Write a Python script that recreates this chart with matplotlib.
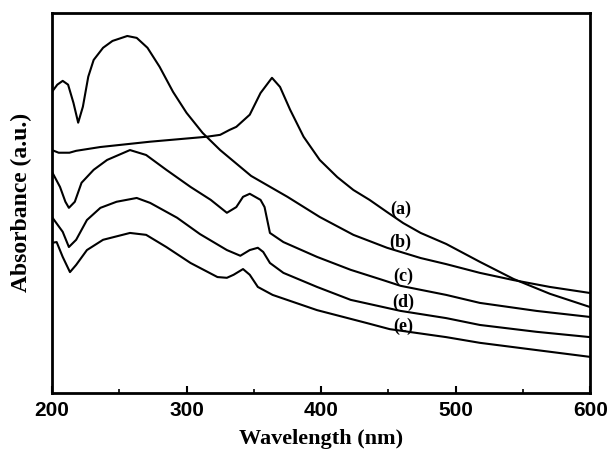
import matplotlib
matplotlib.use("Agg")
import matplotlib.pyplot as plt
from matplotlib.ticker import MultipleLocator

# 곡선 데이터 (그림에서 읽은 값, 임의 단위)
wl_a = [200, 205, 213, 218, 236, 273, 315, 325, 332, 337, 347, 355, 363.5,
        369.5, 377, 387, 399, 412, 424, 436, 449, 461, 474, 493, 518, 543, 570, 600]
abs_a = [0.639, 0.632, 0.632, 0.637, 0.647, 0.661, 0.674, 0.679, 0.692, 0.700,
         0.732, 0.789, 0.829, 0.805, 0.745, 0.674, 0.613, 0.568, 0.534, 0.508,
         0.476, 0.447, 0.421, 0.392, 0.345, 0.300, 0.261, 0.226]

wl_b = [200, 204, 208, 212, 216, 219.5, 223, 227, 231, 238, 245, 256, 263, 271,
        280, 290, 300, 312, 325, 348, 375, 399, 424, 449, 474, 493, 518, 543, 570, 600]
abs_b = [0.792, 0.811, 0.821, 0.811, 0.763, 0.711, 0.753, 0.832, 0.876, 0.908,
         0.926, 0.939, 0.934, 0.908, 0.858, 0.792, 0.737, 0.684, 0.639, 0.571,
         0.516, 0.463, 0.416, 0.382, 0.355, 0.339, 0.316, 0.297, 0.279, 0.263]

wl_c = [200, 206, 210, 212.6, 217, 222, 231, 241, 258, 270, 285, 303, 318, 330,
        337, 342, 347, 355, 358, 362, 372, 397, 422, 446, 459, 493, 518, 560, 600]
abs_c = [0.582, 0.542, 0.503, 0.487, 0.503, 0.553, 0.587, 0.613, 0.639, 0.626,
         0.587, 0.542, 0.508, 0.474, 0.489, 0.516, 0.524, 0.508, 0.489, 0.421,
         0.397, 0.358, 0.324, 0.297, 0.282, 0.258, 0.237, 0.216, 0.200]

wl_d = [200, 208, 212.6, 218, 226, 236, 248, 263, 273, 293, 310, 330, 340, 347,
        353, 357, 362, 372, 397, 422, 459, 493, 518, 560, 600]
abs_d = [0.463, 0.424, 0.384, 0.403, 0.455, 0.487, 0.503, 0.513, 0.500, 0.461,
         0.418, 0.376, 0.361, 0.376, 0.382, 0.371, 0.342, 0.316, 0.279, 0.245,
         0.216, 0.197, 0.179, 0.161, 0.147]

wl_e = [200, 203.5, 208, 213.4, 218, 226, 238, 258, 270, 285, 303, 323, 330, 335,
        342, 347, 353, 364, 397, 434, 451, 493, 518, 560, 600]
abs_e = [0.395, 0.397, 0.358, 0.318, 0.337, 0.376, 0.403, 0.421, 0.416, 0.384,
         0.342, 0.305, 0.303, 0.311, 0.326, 0.311, 0.279, 0.258, 0.218, 0.184,
         0.168, 0.147, 0.132, 0.113, 0.095]

labels = ['(a)', '(b)', '(c)', '(d)', '(e)']
label_x = [459, 459, 461, 461, 461]
label_y = [0.482, 0.397, 0.308, 0.239, 0.176]

x_ticks = [200, 300, 400, 500, 600]

fig = plt.figure(figsize=(6.11, 4.57), dpi=100)
ax = fig.add_axes([0.085, 0.140, 0.881, 0.832])

for wl, ab in [(wl_a, abs_a), (wl_b, abs_b), (wl_c, abs_c), (wl_d, abs_d), (wl_e, abs_e)]:
    ax.plot(wl, ab, color='black', lw=1.5, solid_joinstyle='round')

for t, x, y in zip(labels, label_x, label_y):
    ax.text(x, y, t, fontsize=13, fontweight='bold', family='Liberation Serif',
            ha='center', va='center')

ax.set_xlim(200, 600)
ax.set_ylim(0, 1.0)
ax.set_xticks(x_ticks)
ax.xaxis.set_minor_locator(MultipleLocator(50))
ax.set_yticks([])
ax.tick_params(axis='x', which='major', direction='in', length=5, width=1.5,
               pad=6, labelsize=15)
ax.tick_params(axis='x', which='minor', direction='in', length=3, width=1.2)
for lab in ax.get_xticklabels():
    lab.set_fontweight('bold')
    lab.set_family('Liberation Sans')
for s in ax.spines.values():
    s.set_linewidth(2)

ax.set_xlabel('Wavelength (nm)', fontsize=16, fontweight='bold',
              family='Liberation Serif', labelpad=6)
ax.set_ylabel('Absorbance (a.u.)', fontsize=17, fontweight='bold',
              family='Liberation Serif', labelpad=14)

fig.savefig('out.png', dpi=100)
